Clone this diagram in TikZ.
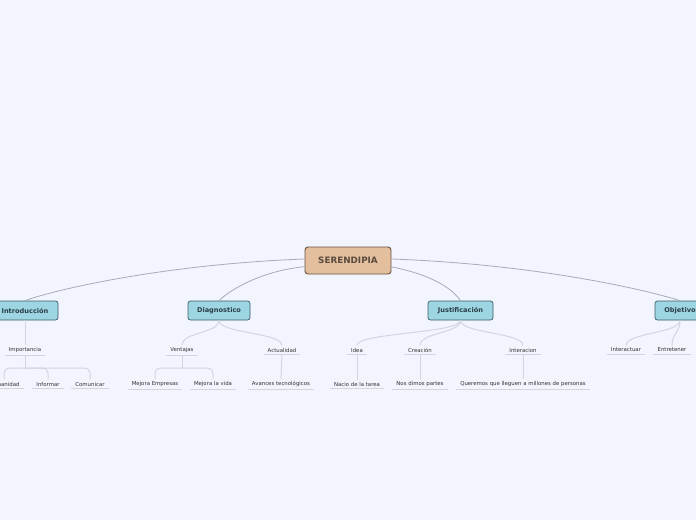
\documentclass[tikz,border=0pt]{standalone}
\usepackage{fontspec}
\setmainfont{DejaVu Sans}
\usetikzlibrary{calc}
\definecolor{bgc}{HTML}{F3F5FE}
\definecolor{rootfill}{HTML}{E4BF9E}
\definecolor{rootdraw}{HTML}{6B5040}
\definecolor{rootText}{HTML}{5A4A3E}
\definecolor{l1fill}{HTML}{9DD5E2}
\definecolor{l1draw}{HTML}{3D5C68}
\definecolor{l1text}{HTML}{2C3E46}
\definecolor{mainline}{HTML}{A8AAB4}
\definecolor{subline}{HTML}{D2D5DE}
\definecolor{subtext}{HTML}{333333}
\tikzset{
  rootbox/.style={draw=rootdraw, fill=rootfill, line width=0.9pt, rounded corners=3pt,
    minimum width=86pt, minimum height=27pt, inner sep=0pt,
    font=\fontsize{8.8}{10}\selectfont\bfseries, text=rootText},
  lonebox/.style={draw=l1draw, fill=l1fill, line width=0.7pt, rounded corners=2.5pt,
    minimum height=19pt, inner sep=0pt, font=\fontsize{6.6}{7.5}\selectfont\bfseries, text=l1text},
  leaf/.style={inner xsep=4pt, inner ysep=2.2pt, font=\fontsize{5.4}{6.5}\selectfont, text=subtext},
  mline/.style={draw=mainline, line width=0.8pt},
  sline/.style={draw=subline, line width=1pt},
  uline/.style={draw=subline, line width=0.8pt},
}
\begin{document}
\begin{tikzpicture}[x=1pt,y=-1pt]
\fill[bgc] (0,0) rectangle (696,520);
\useasboundingbox (0,0) rectangle (696,520);

% root
\node[rootbox] (root) at (348,260.5) {SERENDIPIA};

% level 1
\node[lonebox, minimum width=66pt] (intro) at (25,310.5) {Introducción};
\node[lonebox, minimum width=62pt] (diag) at (219,310.5) {Diagnostico};
\node[lonebox, minimum width=65pt] (just) at (460.5,310.5) {Justificación};
\node[lonebox, minimum width=50pt] (obj) at (680,310.5) {Objetivo};

% level 2
\node[leaf] (imp) at (25,350) {Importancia};
\node[leaf] (ven) at (182,350) {Ventajas};
\node[leaf] (act) at (282,350) {Actualidad};
\node[leaf] (idea) at (357,350) {Idea};
\node[leaf] (crea) at (420,350) {Creación};
\node[leaf] (inte) at (523,350) {Interacion};
\node[leaf] (inta) at (626,350) {Interactuar};
\node[leaf] (entr) at (672,350) {Entretener};

% level 3
\node[leaf] (hum) at (4,384) {Humanidad};
\node[leaf] (inf) at (48,384) {Informar};
\node[leaf] (com) at (90,384) {Comunicar};
\node[leaf] (mem) at (155,384) {Mejora Empresas};
\node[leaf] (mvi) at (213,384) {Mejora la vida};
\node[leaf] (ava) at (281,384) {Avances tecnológicos};
\node[leaf] (nac) at (357,384) {Nacio de la tarea};
\node[leaf] (nos) at (420,384) {Nos dimos partes};
\node[leaf] (que) at (523,384) {Queremos que lleguen a millones de personas};

% underlines
\foreach \n in {imp,ven,act,idea,crea,inte,inta,entr,hum,inf,com,mem,mvi,ava,nac,nos,que}
  \draw[uline] (\n.south west) -- (\n.south east);

% root connectors
\draw[mline] ([yshift=1.5pt]root.west) .. controls (170,264) and (60,288) .. (intro.north);
\draw[mline] ([xshift=2pt,yshift=-6pt]root.west) .. controls (265,270) and (232,288) .. (diag.north);
\draw[mline] ([xshift=-2pt,yshift=-6pt]root.east) .. controls (430,274) and (452,288) .. (just.north);
\draw[mline] ([yshift=1.5pt]root.east) .. controls (530,264) and (640,288) .. (obj.north);

% level1 -> level2
\draw[sline] (intro.south) -- (imp.north);
\foreach \p/\c in {diag/ven, diag/act, just/idea, just/crea, just/inte, obj/inta, obj/entr}
  \draw[sline] (\p.south) .. controls ([yshift=-13pt]\p.south) and ([yshift=13pt]\c.north) .. (\c.north);

% level2 -> level3
\coordinate (jimp) at ([yshift=-13pt]imp.south);
\draw[sline] (imp.south) -- (jimp);
\foreach \c in {hum,inf,com} \draw[sline, rounded corners=5pt] (\c.north) |- (jimp);
\coordinate (jven) at ([yshift=-13pt]ven.south);
\draw[sline] (ven.south) -- (jven);
\foreach \c in {mem,mvi} \draw[sline, rounded corners=5pt] (\c.north) |- (jven);
\draw[sline] (act.south) -- (ava.north);
\draw[sline] (idea.south) -- (nac.north);
\draw[sline] (crea.south) -- (nos.north);
\draw[sline] (inte.south) -- (que.north);
\end{tikzpicture}
\end{document}
